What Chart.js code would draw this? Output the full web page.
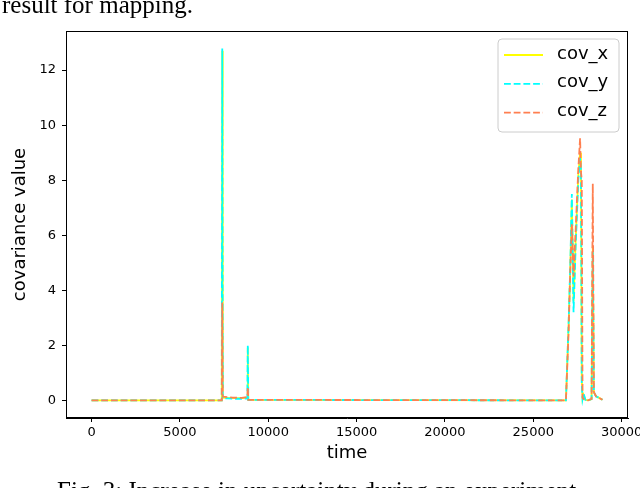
<!DOCTYPE html>
<html>
<head>
<meta charset="utf-8">
<script src="https://cdn.jsdelivr.net/npm/chart.js@4.4.1/dist/chart.umd.min.js"></script>
<style>
  html, body { margin: 0; padding: 0; background: #fff; overflow: hidden; }
  #wrap { position: relative; width: 640px; height: 488px; overflow: hidden; }
  canvas { position: absolute; left: 0; top: 0; }
  .cap { position: absolute; font-family: "Liberation Serif", "Times New Roman", serif; font-size: 25px; color: #000; white-space: nowrap; line-height: 1; }
</style>
</head>
<body>
<div id="wrap">
  <canvas id="c" width="640" height="488"></canvas>
  <div class="cap" id="capTop" style="left:2px; top:-8px;">result for mapping.</div>
  <div class="cap" id="capBottom" style="left:57px; top:478px;">Fig. 3: Increase in uncertainty during an experiment.</div>
</div>
<script>
// ---- data ----
const seriesNames = ["cov_x", "cov_y", "cov_z"];
const time = [0, 7370, 7398, 7425, 7700, 8000, 8500, 8815, 8843, 8870,
  26850, 27000, 27100, 27184, 27280, 27400, 27550, 27650, 27700, 27745,
  27790, 27850, 27950, 28100, 28300, 28369, 28430, 28550, 28700, 28916];
const covX = [0, 0, 12.7, 0.1, 0.09, 0.08, 0.08, 0.09, 1.9, 0.02,
  0, 2.7, 4.9, 7.3, 3.6, 5.8, 8.2, 9.0, 8.4, 0.8,
  0.06, 0.2, 0.02, 0, 0.05, 5.6, 0.3, 0.15, 0.1, 0.02];
const covY = [0, 0, 12.78, 0.08, 0.07, 0.06, 0.06, 0.07, 2.0, 0.02,
  0, 2.8, 5.0, 7.5, 3.2, 5.6, 8.0, 8.8, 8.4, 0.6,
  0.05, 0.25, 0.02, 0, 0.05, 5.4, 0.3, 0.15, 0.1, 0.02];
const covZ = [0, 0, 3.56, 0.14, 0.12, 0.1, 0.09, 0.12, 0.48, 0.02,
  0, 2.5, 4.8, 6.4, 4.5, 6.2, 8.4, 9.52, 8.3, 8.0,
  0.1, 0.05, 0.02, 0, 0.05, 7.87, 0.3, 0.15, 0.1, 0.02];
const xTicks = [0, 5000, 10000, 15000, 20000, 25000, 30000];
const yTicks = [0, 2, 4, 6, 8, 10, 12];
const xTitle = "time";
const yTitle = "covariance value";

// ---- styles ----
const colors = ["#ffff00", "#00ffff", "#ff7f50"];
const dashes = [[], [6.8, 2.9], [6.8, 2.9]];
const values = [covX, covY, covZ];

const datasets = values.map((arr, i) => ({
  label: seriesNames[i],
  data: time.map((t, j) => ({ x: t, y: arr[j] })),
  borderColor: colors[i],
  borderWidth: 1.8,
  borderDash: dashes[i],
  pointRadius: 0,
  tension: 0,
  fill: false,
  order: 3 - i
}));

const framePlugin = {
  id: 'frame',
  afterDraw(chart) {
    const { ctx, chartArea: a } = chart;
    ctx.save();
    ctx.strokeStyle = '#000';
    ctx.lineWidth = 1;
    ctx.strokeRect(Math.round(a.left) + 0.5, Math.round(a.top) + 0.5,
      Math.round(a.right - a.left) - 1, Math.round(a.bottom - a.top) - 1);
    // legend
    const lx = 498, ly = 39, lw = 121, lh = 93, r = 4;
    ctx.beginPath();
    ctx.moveTo(lx + r, ly);
    ctx.arcTo(lx + lw, ly, lx + lw, ly + lh, r);
    ctx.arcTo(lx + lw, ly + lh, lx, ly + lh, r);
    ctx.arcTo(lx, ly + lh, lx, ly, r);
    ctx.arcTo(lx, ly, lx + lw, ly, r);
    ctx.closePath();
    ctx.fillStyle = 'rgba(255,255,255,0.8)';
    ctx.fill();
    ctx.strokeStyle = '#cccccc';
    ctx.stroke();
    ctx.font = '18px "DejaVu Sans"';
    ctx.textBaseline = 'middle';
    ctx.textAlign = 'left';
    seriesNames.forEach((name, i) => {
      const y = 55 + i * 28.8;
      ctx.beginPath();
      ctx.setLineDash(dashes[i]);
      ctx.strokeStyle = colors[i];
      ctx.lineWidth = 1.8;
      ctx.moveTo(504, y);
      ctx.lineTo(543, y);
      ctx.stroke();
      ctx.setLineDash([]);
      ctx.fillStyle = '#000';
      ctx.fillText(name, 557, y - 1);
    });
    ctx.restore();
  }
};

new Chart(document.getElementById('c'), {
  type: 'line',
  data: { datasets },
  plugins: [framePlugin],
  options: {
    responsive: false,
    animation: false,
    devicePixelRatio: 1,
    layout: { padding: { top: 31, right: 12, left: 0, bottom: 0 }, autoPadding: false },
    plugins: { legend: { display: false }, tooltip: { enabled: false } },
    scales: {
      x: {
        type: 'linear',
        min: -1446,
        max: 30362,
        afterFit(s) { s.height = 70; s.paddingLeft = 0; s.paddingRight = 0; },
        afterBuildTicks(s) { s.ticks = xTicks.map(v => ({ value: v })); },
        grid: { drawOnChartArea: false, drawTicks: true, tickLength: 4, color: '#000', tickWidth: 1 },
        border: { display: true, color: '#000', width: 1 },
        ticks: { color: '#000', font: { family: 'DejaVu Sans', size: 13 }, padding: 3, maxRotation: 0, autoSkip: false,
                 callback: v => String(v) },
        title: { display: true, text: xTitle, color: '#000', font: { family: 'DejaVu Sans', size: 18 }, padding: { top: 0, bottom: 24 } }
      },
      y: {
        type: 'linear',
        min: -0.64,
        max: 13.42,
        afterFit(s) { s.width = 66; s.paddingTop = 0; s.paddingBottom = 0; },
        afterBuildTicks(s) { s.ticks = yTicks.map(v => ({ value: v })); },
        grid: { drawOnChartArea: false, drawTicks: true, tickLength: 4, color: '#000', tickWidth: 1 },
        border: { display: true, color: '#000', width: 1 },
        ticks: { color: '#000', font: { family: 'DejaVu Sans', size: 13 }, padding: 6, autoSkip: false,
                 callback: v => String(v) },
        title: { display: true, text: yTitle, color: '#000', font: { family: 'DejaVu Sans', size: 18 }, padding: { top: 10, bottom: 0 } }
      }
    }
  }
});
</script>
</body>
</html>
